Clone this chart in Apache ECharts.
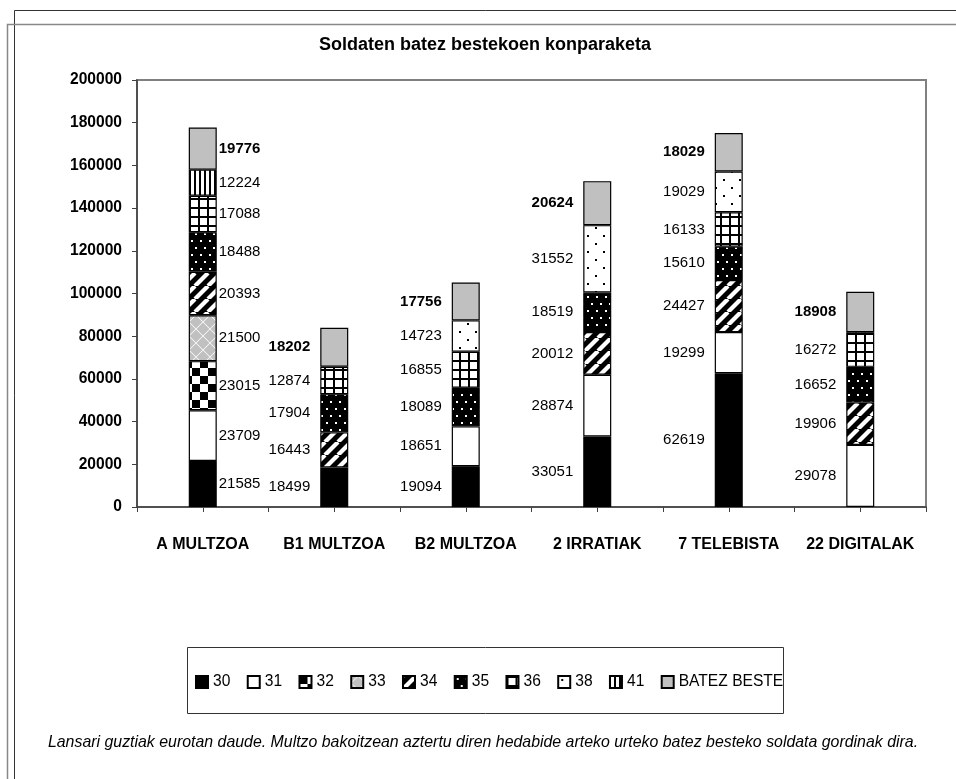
<!DOCTYPE html>
<html><head><meta charset="utf-8">
<script src="https://cdn.jsdelivr.net/npm/echarts@6/dist/echarts.min.js"></script>
<style>html,body{margin:0;padding:0;background:#fff}#c{width:956px;height:779px}</style>
</head><body><div id="c"></div>
<script>
// ---- data ----
const categories = ['A MULTZOA', 'B1 MULTZOA', 'B2 MULTZOA', '2 IRRATIAK', '7 TELEBISTA', '22 DIGITALAK'];
const seriesNames = ['30', '31', '32', '33', '34', '35', '36', '38', '41', 'BATEZ BESTE'];
const s30 = [21585, 18499, 19094, 33051, 62619, null];
const s31 = [23709, null, 18651, 28874, 19299, 29078];
const s32 = [23015, null, null, null, null, null];
const s33 = [21500, null, null, null, null, null];
const s34 = [20393, 16443, null, 20012, 24427, 19906];
const s35 = [18488, 17904, 18089, 18519, 15610, 16652];
const s36 = [17088, 12874, 16855, null, 16133, 16272];
const s38 = [null, null, 14723, 31552, 19029, null];
const s41 = [12224, null, null, null, null, null];
const sBatez = [19776, 18202, 17756, 20624, 18029, 18908];
const yMin = 0, yMax = 200000, yStep = 20000;
const titleText = 'Soldaten batez bestekoen konparaketa';
const noteText = 'Lansari guztiak eurotan daude. Multzo bakoitzean aztertu diren hedabide arteko urteko batez besteko soldata gordinak dira.';

// ---- patterns ----
function pat(w, h, draw) {
  const c = document.createElement('canvas');
  c.width = w; c.height = h;
  const g = c.getContext('2d');
  draw(g, w, h);
  return { image: c, repeat: 'repeat' };
}
const P32 = pat(16, 16, g => { g.fillStyle = '#fff'; g.fillRect(0,0,16,16); g.fillStyle = '#000'; g.fillRect(0,0,8,8); g.fillRect(8,8,8,8); });
const P33 = pat(14, 14, g => {
  g.fillStyle = '#fff'; g.fillRect(0,0,14,14); g.fillStyle = '#c0c0c0';
  const d = (cx, cy, r) => { g.beginPath(); g.moveTo(cx, cy-r); g.lineTo(cx+r, cy); g.lineTo(cx, cy+r); g.lineTo(cx-r, cy); g.closePath(); g.fill(); };
  d(7,7,6.5); d(0,0,6.5); d(14,0,6.5); d(0,14,6.5); d(14,14,6.5);
});
const P34 = pat(13, 13, g => {
  g.fillStyle = '#000'; g.fillRect(0,0,13,13); g.strokeStyle = '#fff'; g.lineWidth = 4.2;
  for (const o of [-13, 0, 13]) { g.beginPath(); g.moveTo(o, 13); g.lineTo(o+13, 0); g.stroke(); }
});
const P35 = pat(9, 14, g => { g.fillStyle = '#000'; g.fillRect(0,0,9,14); g.fillStyle = '#fff'; g.fillRect(2,2,2,2); g.fillRect(6,9,2,2); });
const P36 = pat(9, 9, g => { g.fillStyle = '#000'; g.fillRect(0,0,9,9); g.fillStyle = '#fff'; g.fillRect(2,2,7,7); });
const P38 = pat(16, 16, g => { g.fillStyle = '#fff'; g.fillRect(0,0,16,16); g.fillStyle = '#000'; g.fillRect(3,3,2,2); g.fillRect(11,11,2,2); });
const P41 = pat(5, 2, g => { g.fillStyle = '#000'; g.fillRect(0,0,5,2); g.fillStyle = '#fff'; g.fillRect(1,0,3,2); });
const fills = ['#000', '#fff', P32, P33, P34, P35, P36, P38, P41, '#c0c0c0'];
const allData = [s30, s31, s32, s33, s34, s35, s36, s38, s41, sBatez];

const FONT = 'Arial, "Liberation Sans", sans-serif';

const series = allData.map((arr, si) => ({
  name: seriesNames[si],
  type: 'bar',
  stack: 'total',
  barWidth: 28,
  xAxisIndex: 0,
  itemStyle: { color: fills[si], borderColor: '#000', borderWidth: 1.2 },
  label: {
    show: true,
    color: '#000',
    fontFamily: FONT,
    fontSize: 15,
    fontWeight: si === allData.length - 1 ? 'bold' : 'normal',
    formatter: p => String(p.value)
  },
  data: arr.map((v, ci) => (v == null ? null : {
    value: v,
    label: ci === 0 ? { position: 'right', distance: 2 } : { position: 'left', distance: 10 }
  }))
}));

const chart = echarts.init(document.getElementById('c'), null, { renderer: 'canvas' });
chart.setOption({
  animation: false,
  backgroundColor: '#fff',
  grid: { left: 137, right: 30, top: 80, bottom: 272, show: true, borderColor: '#808080', borderWidth: 2, backgroundColor: 'transparent' },
  legend: {
    data: seriesNames,
    left: 195, top: 674,
    padding: 0,
    icon: 'rect',
    itemWidth: 12, itemHeight: 12, itemGap: 16.4,
    textStyle: { fontFamily: FONT, fontSize: 15.6, color: '#000' },
    selectedMode: false
  },
  xAxis: [
    {
      type: 'category', data: categories,
      axisLine: { show: true, lineStyle: { color: '#404040', width: 1.5 } },
      axisTick: { show: false },
      axisLabel: { interval: 0, margin: 30, color: '#000', fontFamily: FONT, fontSize: 16, fontWeight: 'bold' }
    },
    {
      type: 'category', data: ['', '', '', '', '', '', '', '', '', '', '', ''],
      position: 'bottom',
      axisLine: { show: false },
      axisTick: { show: true, length: 5, lineStyle: { color: '#404040' } },
      axisLabel: { show: false }
    }
  ],
  yAxis: {
    type: 'value', min: yMin, max: yMax, interval: yStep,
    axisLine: { show: true, lineStyle: { color: '#404040', width: 1.5 } },
    axisTick: { show: true, length: 5, lineStyle: { color: '#404040' } },
    splitLine: { show: false },
    axisLabel: { margin: 15, color: '#000', fontFamily: FONT, fontSize: 15.6, fontWeight: 'bold', formatter: v => String(v) }
  },
  graphic: [
    { type: 'rect', z: -1, shape: { x: 14.5, y: 10.5, width: 1000, height: 1000 }, style: { fill: 'none', stroke: '#333', lineWidth: 1 } },
    { type: 'rect', z: -1, shape: { x: 7.5, y: 24.5, width: 1000, height: 1000 }, style: { fill: 'none', stroke: '#888', lineWidth: 1.5 } },
    { type: 'rect', z: -1, shape: { x: 187.5, y: 647.5, width: 596, height: 66 }, style: { fill: 'none', stroke: '#333', lineWidth: 1 } },
    { type: 'text', x: 485, y: 45, style: { text: titleText, textAlign: 'center', textVerticalAlign: 'middle', fontFamily: FONT, fontSize: 18, fontWeight: 'bold', fill: '#000' } },
    { type: 'text', x: 483, y: 743, style: { text: noteText, textAlign: 'center', textVerticalAlign: 'middle', fontFamily: FONT, fontSize: 15.9, fontStyle: 'italic', fill: '#000' } }
  ],
  series: series
});
</script></body></html>
